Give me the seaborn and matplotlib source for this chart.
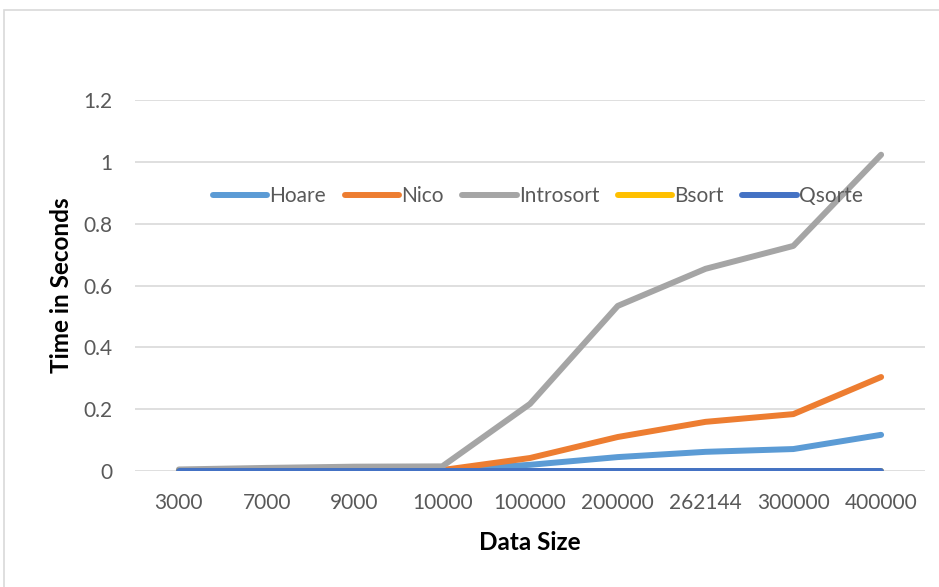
import matplotlib
matplotlib.use("Agg")
import matplotlib.pyplot as plt
from matplotlib.patches import Rectangle
import pandas as pd
import seaborn as sns

sizes = ["3000", "7000", "9000", "10000", "100000", "200000", "262144", "300000", "400000"]
hoare = [0.001, 0.002, 0.003, 0.003, 0.020, 0.045, 0.062, 0.071, 0.117]
nico = [0.001, 0.002, 0.002, 0.003, 0.042, 0.110, 0.159, 0.184, 0.304]
introsort = [0.005, 0.010, 0.014, 0.015, 0.217, 0.534, 0.654, 0.728, 1.023]
bsort = [0.000, 0.000, 0.000, 0.000, 0.000, 0.000, 0.000, 0.000, 0.000]
qsorte = [0.000, 0.000, 0.000, 0.000, 0.000, 0.000, 0.000, 0.000, 0.000]

series = {"Hoare": hoare, "Nico": nico, "Introsort": introsort, "Bsort": bsort, "Qsorte": qsorte}
colors = {"Hoare": "#5B9BD5", "Nico": "#ED7D31", "Introsort": "#A5A5A5",
          "Bsort": "#FFC000", "Qsorte": "#4472C4"}

rows = []
for name, vals in series.items():
    for s, v in zip(sizes, vals):
        rows.append({"Data Size": s, "Time": v, "Algorithm": name})
df = pd.DataFrame(rows)

sns.set_theme(style="white")
plt.rcParams["font.family"] = ["Lato", "DejaVu Sans"]

fig = plt.figure(figsize=(9.39, 5.87), dpi=100)
ax = fig.add_axes([135 / 939, 1 - 471 / 587, 790 / 939, 371 / 587])

# outer chart border
fig.patches.append(Rectangle((4 / 939, -0.1), 1.2, 1 - 10 / 587 + 0.1,
                             transform=fig.transFigure, fill=False,
                             edgecolor="#D9D9D9", linewidth=1.2))

sns.lineplot(data=df, x="Data Size", y="Time", hue="Algorithm", palette=colors,
             linewidth=4.3, sort=False, ax=ax, solid_capstyle="round", zorder=3)

ax.set_xlim(-0.5, len(sizes) - 0.5)
ax.set_ylim(0, 1.2)
ax.set_yticks([0, 0.2, 0.4, 0.6, 0.8, 1.0, 1.2])
ax.set_yticklabels(["0", "0.2", "0.4", "0.6", "0.8", "1", "1.2"])
ax.yaxis.grid(True, color="#D9D9D9", linewidth=1.2)
ax.set_axisbelow(True)
for sp in ax.spines.values():
    sp.set_visible(False)
ax.tick_params(axis="both", length=0, labelsize=15, colors="#595959")
ax.tick_params(axis="x", pad=16)
ax.tick_params(axis="y", pad=16)

ax.set_xlabel("Data Size", fontsize=17.5, fontweight="bold", color="black", labelpad=13)
ax.set_ylabel("Time in Seconds", fontsize=17.5, fontweight="bold", color="black", labelpad=8)

handles, labels = ax.get_legend_handles_labels()
ax.legend(handles, labels, loc="center", bbox_to_anchor=(0.51, 0.741), ncol=5,
          frameon=False, fontsize=15, labelcolor="#595959", handlelength=2.6,
          handletextpad=0.1, columnspacing=0.9)

fig.savefig("out.png", dpi=100)
